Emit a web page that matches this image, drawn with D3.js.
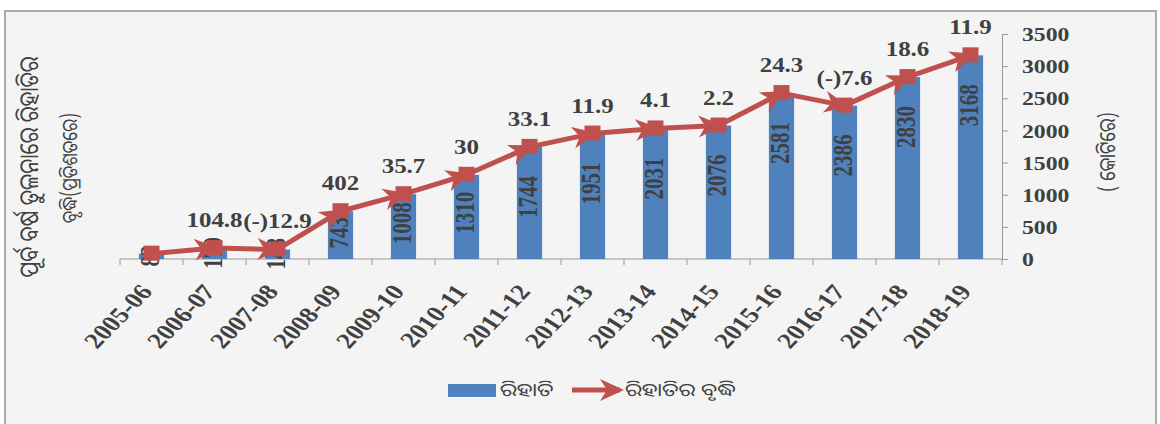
<!DOCTYPE html>
<html>
<head>
<meta charset="utf-8">
<script src="https://cdn.jsdelivr.net/npm/d3@7"></script>
<style>
  body { margin: 0; background: #fff; }
  .num { font-family: "Liberation Serif", "Times New Roman", serif; font-weight: bold; fill: #404040; }
  .odia { font-family: "Noto Sans Oriya", "Noto Sans", sans-serif; fill: #404040; }
</style>
</head>
<body>
<script>
// years, export value (crore) and growth over previous year (%)
var years = ["2005-06", "2006-07", "2007-08", "2008-09", "2009-10", "2010-11", "2011-12",
             "2012-13", "2013-14", "2014-15", "2015-16", "2016-17", "2017-18", "2018-19"]
var values = [83, 170, 148, 743, 1008, 1310, 1744, 1951, 2031, 2076, 2581, 2386, 2830, 3168]
var growth = ["", "104.8", "(-)12.9", "402", "35.7", "30", "33.1", "11.9", "4.1", "2.2",
              "24.3", "(-)7.6", "18.6", "11.9"]
var yTicks = [0, 500, 1000, 1500, 2000, 2500, 3000, 3500]

var W = 1160, H = 424
var sx = 1.25   // the original picture is stretched sideways

var svg = d3.select("body").append("svg")
  .attr("width", W).attr("height", H)

svg.append("rect")
  .attr("x", 5).attr("y", 11).attr("width", 1151).attr("height", 420)
  .attr("fill", "#f4f4f4").attr("stroke", "#aaa").attr("stroke-width", 2)

var x = d3.scaleBand().domain(years).range([120, 1002]).paddingInner(0.6).paddingOuter(0.3)
var y = d3.scaleLinear().domain([0, 3500]).range([259, 34])

function cx(d) { return x(d) + x.bandwidth() / 2 }

// x axis with ticks between categories
var xa = svg.append("g")
xa.append("line").attr("x1", 120).attr("x2", 1002).attr("y1", y(0)).attr("y2", y(0))
  .attr("stroke", "#999")
xa.selectAll("line.tk").data(d3.range(years.length + 1)).enter().append("line")
  .attr("class", "tk")
  .attr("x1", function(i) { return 120 + i * x.step() })
  .attr("x2", function(i) { return 120 + i * x.step() })
  .attr("y1", y(0)).attr("y2", y(0) + 6)
  .attr("stroke", "#999")
xa.selectAll("text").data(years).enter().append("text")
  .attr("class", "num")
  .attr("transform", function(d) { return "translate(" + (cx(d) + 2) + "," + (y(0) + 33) + ") scale(" + sx + ",1) rotate(-52)" })
  .attr("text-anchor", "end")
  .style("font-size", "22px")
  .text(function(d) { return d })

// right axis
var ya = svg.append("g").attr("transform", "translate(1002,0)")
  .call(d3.axisRight(y).tickValues(yTicks).tickSize(6).tickFormat(function(d) { return "" }))
ya.select(".domain").attr("stroke", "#999")
ya.selectAll(".tick line").attr("stroke", "#999")
ya.selectAll(".tick").append("text")
  .attr("class", "num")
  .attr("transform", "translate(20,0) scale(" + sx + ",1)")
  .attr("dy", "0.35em")
  .style("font-size", "19px")
  .text(function(d) { return d })

// bars
svg.selectAll("rect.bar").data(values).enter().append("rect")
  .attr("class", "bar")
  .attr("x", function(d, i) { return x(years[i]) })
  .attr("width", x.bandwidth())
  .attr("y", function(d) { return y(d) })
  .attr("height", function(d) { return y(0) - y(d) })
  .attr("fill", "#4f81bd")

svg.selectAll("text.bl").data(values).enter().append("text")
  .attr("class", "num bl")
  .attr("transform", function(d, i) {
    var h = y(0) - y(d)
    return "translate(" + (cx(years[i]) + 7) + "," + (y(d) + Math.min(50, h * 0.45)) + ") scale(" + sx + ",1) rotate(-90)"
  })
  .attr("text-anchor", "middle")
  .style("font-size", "21px")
  .text(function(d) { return d })

// arrow line
var defs = svg.append("defs")
defs.append("marker").attr("id", "arr")
  .attr("viewBox", "-24 -12 26 24").attr("markerWidth", 26).attr("markerHeight", 24)
  .attr("markerUnits", "userSpaceOnUse").attr("orient", "auto").attr("refX", -4).attr("refY", 0)
  .append("path").attr("d", "M0,0 L-24,-11 L-17,0 L-24,11 Z").attr("fill", "#c0504d")

var pts = values.map(function(d, i) { return [cx(years[i]), y(d)] })
svg.selectAll("line.seg").data(d3.range(1, pts.length)).enter().append("line")
  .attr("class", "seg")
  .attr("x1", function(i) { return pts[i - 1][0] }).attr("y1", function(i) { return pts[i - 1][1] })
  .attr("x2", function(i) { return pts[i][0] }).attr("y2", function(i) { return pts[i][1] })
  .attr("stroke", "#c0504d").attr("stroke-width", 5)
  .attr("marker-end", "url(#arr)")

svg.selectAll("rect.mk").data(pts).enter().append("rect")
  .attr("class", "mk")
  .attr("x", function(p) { return p[0] - 8 }).attr("y", function(p) { return p[1] - 8 })
  .attr("width", 16).attr("height", 15)
  .attr("fill", "#c0504d")

svg.selectAll("text.gl").data(growth).enter().append("text")
  .attr("class", "num gl")
  .attr("transform", function(d, i) { return "translate(" + pts[i][0] + "," + (pts[i][1] - 21) + ") scale(" + sx + ",1)" })
  .attr("text-anchor", "middle")
  .style("font-size", "20px")
  .text(function(d) { return d })

// axis titles
svg.append("text").attr("class", "odia")
  .attr("transform", "translate(38,167) scale(" + sx + ",1) rotate(-90)")
  .attr("text-anchor", "middle").style("font-size", "21px")
  .text("ପୂର୍ବ ବର୍ଷ ତୁଳନାରେ ରିହାତିର")
svg.append("text").attr("class", "odia")
  .attr("transform", "translate(77,168) scale(" + sx + ",1) rotate(-90)")
  .attr("text-anchor", "middle").style("font-size", "17px")
  .text("ବୃଦ୍ଧି(ପ୍ରତିଶତରେ)")
svg.append("text").attr("class", "odia")
  .attr("transform", "translate(1115,152) scale(" + sx + ",1) rotate(-90)")
  .attr("text-anchor", "middle").style("font-size", "18px")
  .text("( କୋଟିରେ)")

// legend
var lg = svg.append("g")
lg.append("rect").attr("x", 448).attr("y", 384).attr("width", 48).attr("height", 13).attr("fill", "#4f81bd")
lg.append("text").attr("class", "odia")
  .attr("transform", "translate(500,396) scale(" + sx + ",1)").style("font-size", "18px")
  .text("ରିହାତି")
lg.append("line").attr("x1", 572).attr("x2", 620).attr("y1", 390).attr("y2", 390)
  .attr("stroke", "#c0504d").attr("stroke-width", 5).attr("marker-end", "url(#arr)")
lg.append("text").attr("class", "odia")
  .attr("transform", "translate(625,396) scale(" + sx + ",1)").style("font-size", "18px")
  .text("ରିହାତିର ବୃଦ୍ଧି")
</script>
</body>
</html>
